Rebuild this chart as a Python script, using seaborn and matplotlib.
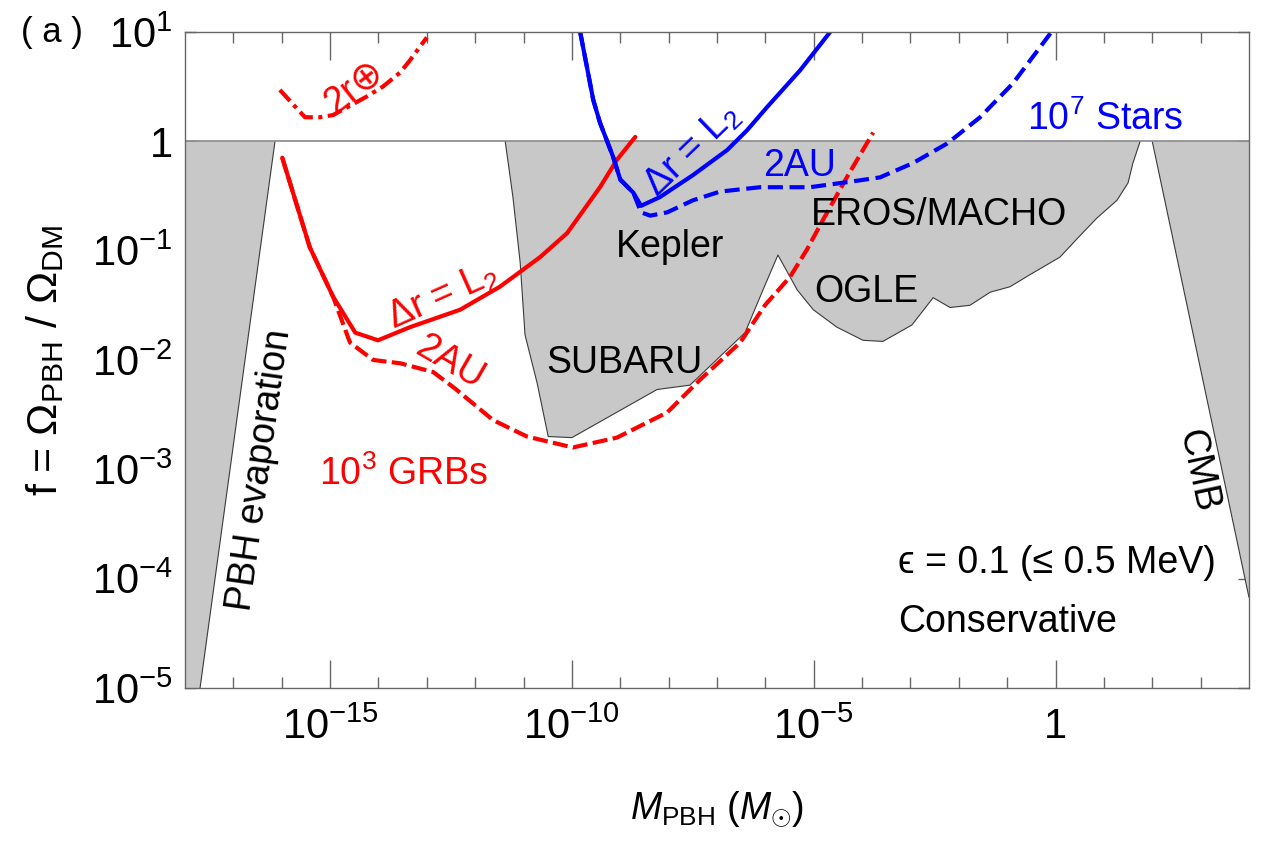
import numpy as np
import matplotlib
matplotlib.use("Agg")
import matplotlib.pyplot as plt
from matplotlib.ticker import FixedLocator, FixedFormatter, NullLocator, NullFormatter
import seaborn as sns

# ---------------------------------------------------------------
# Data: log10(M_PBH / M_sun) and log10(f)
# ---------------------------------------------------------------
# 10^3 GRBs, separation = L2 (solid red)
grb_l2_logm = [-15.99, -15.42, -14.94, -14.48, -14.01, -13.35, -12.31,
               -11.49, -10.66, -10.10, -9.42, -9.07, -8.69]
grb_l2_logf = [-0.15, -0.97, -1.42, -1.75, -1.82, -1.70, -1.54,
               -1.33, -1.06, -0.84, -0.42, -0.17, 0.04]

# 10^3 GRBs, separation = 2 AU (dashed red)
grb_2au_logm = [-15.99, -15.42, -14.94, -14.59, -14.11, -13.55, -12.87,
                -12.42, -11.63, -10.93, -9.98, -9.07, -8.03, -7.35, -6.52,
                -6.01, -5.49, -5.14, -4.81, -4.29, -3.77]
grb_2au_logf = [-0.15, -0.97, -1.42, -1.84, -2.00, -2.03, -2.11,
                -2.26, -2.55, -2.70, -2.80, -2.71, -2.48, -2.18, -1.84,
                -1.50, -1.24, -0.99, -0.72, -0.31, 0.08]

# 10^3 GRBs, separation = 2 Earth radii (dash-dot red)
grb_2re_logm = [-16.04, -15.52, -15.21, -14.94, -14.24, -13.91, -13.55,
                -13.35, -13.00]
grb_2re_logf = [0.47, 0.22, 0.22, 0.24, 0.41, 0.50, 0.63, 0.74, 0.95]

# 10^7 stars, separation = L2 (solid blue)
star_l2_logm = [-9.83, -9.69, -9.56, -9.42, -9.15, -9.00, -8.73, -8.57,
                -8.18, -7.50, -6.79, -6.38, -5.97, -5.28, -4.66]
star_l2_logf = [1.00, 0.68, 0.38, 0.17, -0.14, -0.35, -0.47, -0.59,
                -0.51, -0.31, -0.08, 0.10, 0.31, 0.65, 1.00]

# 10^7 stars, separation = 2 AU (dashed blue)
star_2au_logm = [-9.83, -9.69, -9.56, -9.42, -9.15, -9.00, -8.73, -8.57,
                 -8.38, -8.03, -7.50, -6.94, -6.11, -5.08, -4.25, -3.63,
                 -2.95, -2.24, -1.56, -0.88, -0.05]
star_2au_logf = [1.00, 0.68, 0.38, 0.17, -0.14, -0.35, -0.47, -0.65,
                 -0.68, -0.65, -0.54, -0.46, -0.42, -0.42, -0.37, -0.33,
                 -0.20, -0.02, 0.22, 0.53, 1.02]

# Existing constraints (shaded)
evap_logm = [-18.0, -18.0, -17.69, -16.14]
evap_logf = [0.0, -5.0, -5.0, 0.0]

lens_logm = [-11.38, -11.22, -11.07, -10.97, -10.72, -10.49, -10.00, -8.24,
             -7.56, -6.42, -6.05, -5.74, -5.34, -5.01, -4.52, -3.98, -3.57,
             -2.97, -2.53, -2.18, -1.77, -1.35, -0.94, -0.53, 0.09, 0.47,
             0.86, 1.27, 1.50, 1.60, 1.75]
lens_logf = [0.00, -0.51, -1.11, -1.77, -2.21, -2.70, -2.71, -2.27,
             -2.23, -1.75, -1.36, -1.04, -1.36, -1.54, -1.70, -1.82, -1.83,
             -1.68, -1.43, -1.52, -1.50, -1.38, -1.33, -1.22, -1.06, -0.88,
             -0.70, -0.54, -0.38, -0.20, 0.00]

cmb_logm = [2.0, 4.0, 4.0]
cmb_logf = [0.0, -4.17, 0.0]

x_major_exp = [-15, -10, -5, 0]
x_major_labels = [r"$10^{-15}$", r"$10^{-10}$", r"$10^{-5}$", "1"]
y_exp = [-5, -4, -3, -2, -1, 0, 1]
y_labels = [r"$10^{-5}$", r"$10^{-4}$", r"$10^{-3}$", r"$10^{-2}$",
            r"$10^{-1}$", "1", r"$10^{1}$"]

# ---------------------------------------------------------------
sns.set_theme(style="ticks")
plt.rcParams["font.family"] = ["Liberation Sans", "DejaVu Sans"]
plt.rcParams["mathtext.fontset"] = "custom"
plt.rcParams["mathtext.rm"] = "Liberation Sans"
plt.rcParams["mathtext.it"] = "Liberation Sans:italic"
plt.rcParams["mathtext.bf"] = "Liberation Sans:bold"
plt.rcParams["mathtext.sf"] = "Liberation Sans"
for key in ["text.color", "axes.labelcolor", "xtick.labelcolor", "ytick.labelcolor"]:
    plt.rcParams[key] = "black"

fig, ax = plt.subplots(figsize=(12.64, 8.41), dpi=100)
fig.subplots_adjust(left=0.1464, right=0.9881, top=0.962, bottom=0.1819)
ax.set_xscale("log")
ax.set_yscale("log")
ax.set_xlim(1e-18, 1e4)
ax.set_ylim(1e-5, 10)

def p10(v):
    return 10.0 ** np.asarray(v, dtype=float)

FILL = "#c8c8c8"
EDGE = "#3a3a3a"

# shaded constraint regions
for lm, lf in [(evap_logm, evap_logf), (lens_logm, lens_logf), (cmb_logm, cmb_logf)]:
    ax.fill(p10(lm), p10(lf), color=FILL, lw=0, zorder=1)
ax.plot(p10(evap_logm[2:]), p10(evap_logf[2:]), color=EDGE, lw=0.8, zorder=2)
ax.plot(p10(lens_logm), p10(lens_logf), color=EDGE, lw=0.8, zorder=2)
ax.plot(p10(cmb_logm[:2]), p10(cmb_logf[:2]), color=EDGE, lw=0.8, zorder=2)
ax.axhline(1.0, color="#888888", lw=1.2, zorder=2)

RED = "#ff0000"
BLUE = "#0000ff"
LW = 3.0
curves = [
    (grb_l2_logm, grb_l2_logf, RED, "-"),
    (grb_2au_logm, grb_2au_logf, RED, (0, (3.6, 1.3))),
    (grb_2re_logm, grb_2re_logf, RED, (0, (3.6, 1.3, 1.0, 1.3))),
    (star_2au_logm, star_2au_logf, BLUE, (0, (3.6, 1.6))),
    (star_l2_logm, star_l2_logf, BLUE, "-"),
]
for lm, lf, col, ls in curves:
    sns.lineplot(x=p10(lm), y=p10(lf), ax=ax, color=col, lw=LW,
                 linestyle=ls, sort=False, estimator=None, legend=False,
                 zorder=3)

# annotations
FS = 27
def label(lm, lf, s, color="black", rot=0, ha="center", **kw):
    ax.text(10.0 ** lm, 10.0 ** lf, s, color=color, fontsize=FS, ha=ha,
            va="center", rotation=rot, rotation_mode="anchor", zorder=4, **kw)

label(-8.92, -2.03, "SUBARU")
label(-7.97, -0.97, "Kepler")
label(-2.41, -0.67, "EROS/MACHO")
label(-3.92, -1.38, "OGLE")
label(-16.45, -3.01, "PBH evaporation", rot=82)
label(2.93, -3.01, "CMB", rot=-78)
label(-13.49, -3.04, r"10$^3$ GRBs", color=RED)
label(1.02, 0.20, r"10$^7$ Stars", color=BLUE)
label(-12.67, -1.42, r"$\Delta$r = L$_2$", color=RED, rot=24)
label(-12.52, -2.02, "2AU", color=RED, rot=-30)
label(-14.51, 0.50, "2r⊕", color=RED, rot=38)
label(-7.52, -0.08, r"$\Delta$r = L$_2$", color=BLUE, rot=44)
label(-5.30, -0.23, "2AU", color=BLUE)
label(-3.26, -3.86, "ϵ = 0.1 (≤ 0.5 MeV)", ha="left")
label(-3.26, -4.40, "Conservative", ha="left")

# axes styling
AX = "#666666"
for sp in ax.spines.values():
    sp.set_color(AX)
    sp.set_linewidth(1.0)
    sp.set_zorder(5)

ax.xaxis.set_major_locator(FixedLocator([10.0 ** e for e in x_major_exp]))
ax.xaxis.set_major_formatter(FixedFormatter(x_major_labels))
ax.xaxis.set_minor_locator(FixedLocator([10.0 ** e for e in range(-17, 4)
                                         if e not in x_major_exp]))
ax.xaxis.set_minor_formatter(NullFormatter())
ax.yaxis.set_major_locator(FixedLocator([10.0 ** e for e in y_exp]))
ax.yaxis.set_major_formatter(FixedFormatter(y_labels))
ax.yaxis.set_minor_locator(NullLocator())
ax.yaxis.set_minor_formatter(NullFormatter())

ax.tick_params(axis="x", which="major", direction="in", length=20, width=1,
               color=AX, labelcolor="black", top=True, bottom=True,
               labelsize=30, pad=14)
ax.tick_params(axis="x", which="minor", direction="in", length=8, width=1,
               color=AX, top=True, bottom=True)
ax.tick_params(axis="y", which="major", direction="in", length=8, width=1,
               color=AX, labelcolor="black", left=True, right=True,
               labelsize=30, pad=9)

ax.set_xlabel(r"$M_{\rm PBH}$ ($M_{\odot}$)", fontsize=27, labelpad=30)
ax.set_ylabel(r"f = $\Omega_{\rm PBH}$ / $\Omega_{\rm DM}$", fontsize=31,
              labelpad=18)

fig.text(0.041, 0.961, "( a )", fontsize=25, ha="center", va="center")

fig.savefig("out.png", dpi=100)
